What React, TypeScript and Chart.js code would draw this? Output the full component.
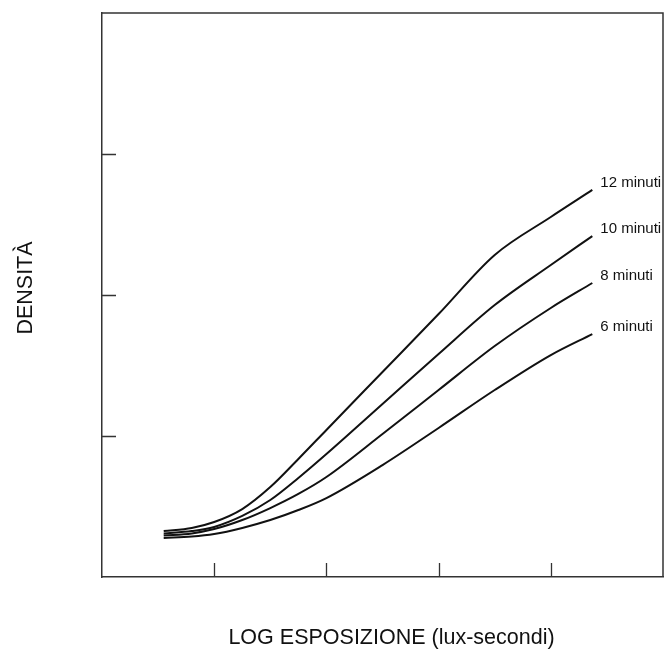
import { useEffect, useRef } from "react";
import { Chart, registerables } from "chart.js";

Chart.register(...registerables);

const logExposure = [0.55, 0.8, 1.0, 1.25, 1.5, 1.75, 2.0, 2.5, 3.0, 3.5, 4.0, 4.37];
const density12 = [0.326, 0.348, 0.39, 0.482, 0.638, 0.837, 1.043, 1.454, 1.865, 2.284, 2.553, 2.745];
const density10 = [0.309, 0.326, 0.355, 0.433, 0.546, 0.702, 0.872, 1.227, 1.582, 1.929, 2.213, 2.418];
const density8 = [0.294, 0.309, 0.34, 0.404, 0.489, 0.589, 0.709, 1.014, 1.326, 1.638, 1.908, 2.085];
const density6 = [0.277, 0.287, 0.305, 0.348, 0.404, 0.475, 0.56, 0.794, 1.057, 1.326, 1.574, 1.723];
const seriesLabels = ["12 minuti", "10 minuti", "8 minuti", "6 minuti"];
const seriesValues = [density12, density10, density8, density6];
const xTicks = [1, 2, 3, 4];
const yTicks = [1, 2, 3];
const xTitle = "LOG ESPOSIZIONE (lux-secondi)";
const yTitle = "DENSITÀ";

const FONT = "'Liberation Sans', Arial, sans-serif";

const decorPlugin = {
  id: "decor",
  afterDraw(chart: any) {
    const { ctx, chartArea } = chart;
    const xs = chart.scales.x;
    const ys = chart.scales.y;
    ctx.save();
    ctx.strokeStyle = "#333";
    ctx.lineWidth = 1.5;
    ctx.beginPath();
    ctx.moveTo(chartArea.left, chartArea.top);
    ctx.lineTo(chartArea.right, chartArea.top);
    ctx.lineTo(chartArea.right, chartArea.bottom);
    ctx.stroke();
    ctx.lineWidth = 1.3;
    ctx.beginPath();
    xTicks.forEach((v) => {
      const px = Math.round(xs.getPixelForValue(v)) + 0.5;
      ctx.moveTo(px, chartArea.bottom);
      ctx.lineTo(px, chartArea.bottom - 14);
    });
    yTicks.forEach((v) => {
      const py = Math.round(ys.getPixelForValue(v)) + 0.5;
      ctx.moveTo(chartArea.left, py);
      ctx.lineTo(chartArea.left + 14, py);
    });
    ctx.stroke();
    ctx.fillStyle = "#111";
    ctx.font = `15px ${FONT}`;
    ctx.textAlign = "left";
    ctx.textBaseline = "middle";
    chart.data.datasets.forEach((ds: any, i: number) => {
      const meta = chart.getDatasetMeta(i);
      const pt = meta.data[meta.data.length - 1];
      ctx.fillText(ds.label, pt.x + 8, pt.y - 7);
    });
    ctx.font = `21.5px ${FONT}`;
    ctx.textAlign = "center";
    ctx.fillText(xTitle, (chartArea.left + chartArea.right) / 2 + 9, 638);
    ctx.translate(26, 288);
    ctx.rotate(-Math.PI / 2);
    ctx.fillText(yTitle, 0, 0);
    ctx.restore();
  },
};

export default function App() {
  const ref = useRef<HTMLCanvasElement>(null);
  useEffect(() => {
    if (!ref.current) return;
    const chart = new Chart(ref.current, {
      type: "line",
      data: {
        datasets: seriesValues.map((vals, i) => ({
          label: seriesLabels[i],
          data: vals.map((y, j) => ({ x: logExposure[j], y })),
          borderColor: "#111",
          borderWidth: 2,
          pointRadius: 0,
          fill: false,
          cubicInterpolationMode: "monotone" as const,
        })),
      },
      options: {
        animation: false,
        responsive: false,
        maintainAspectRatio: false,
        layout: { padding: { left: 102, right: 2, top: 13, bottom: 76 } },
        plugins: { legend: { display: false }, tooltip: { enabled: false } },
        scales: {
          x: {
            type: "linear",
            min: 0,
            max: 5,
            grid: { display: false, drawTicks: false },
            ticks: { display: false },
            border: { display: true, color: "#333", width: 1.5 },
          },
          y: {
            type: "linear",
            min: 0,
            max: 4,
            grid: { display: false, drawTicks: false },
            ticks: { display: false },
            border: { display: true, color: "#333", width: 1.5 },
          },
        },
      },
      plugins: [decorPlugin],
    });
    return () => chart.destroy();
  }, []);
  return (
    <div style={{ position: "absolute", left: 0, top: 0, width: 665, height: 653, background: "#fff" }}>
      <canvas ref={ref} width={665} height={653} style={{ width: 665, height: 653 }} />
    </div>
  );
}
